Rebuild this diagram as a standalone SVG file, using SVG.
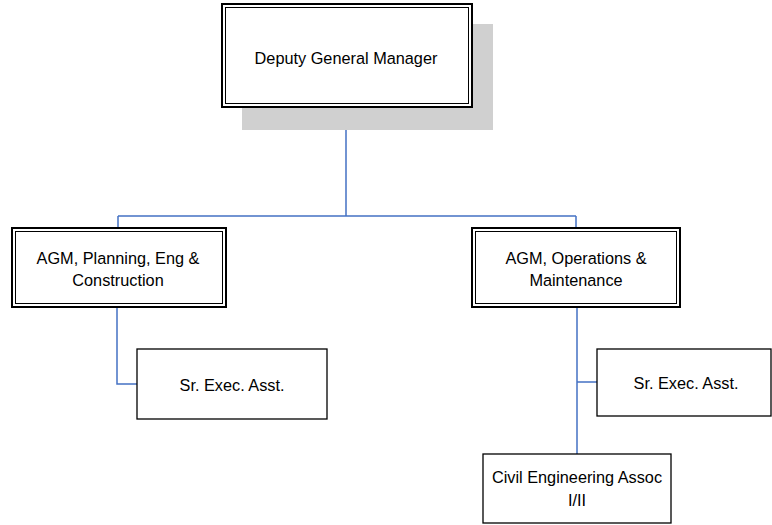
<svg xmlns="http://www.w3.org/2000/svg" width="772" height="525" viewBox="0 0 772 525">
<style>
.o{fill:none;stroke:#000;stroke-width:2}
.i{fill:none;stroke:#000;stroke-width:1}
.b{fill:#fff;stroke:#000;stroke-width:1.3}
.t{font-family:"Liberation Sans",Arial,sans-serif;font-size:16.3px;fill:#000;text-anchor:middle}
.c{fill:none;stroke:#4472C4;stroke-width:1.5}
</style>
<rect width="772" height="525" fill="#fff"/>
<g id="connectors">
<path class="c" d="M346 108V216M118 216H576M118 216V228M576 216V228"/>
<path class="c" d="M117 307V384H137"/>
<path class="c" d="M577 307V454M577 382H597"/>
</g>
<g id="dgm">
<rect x="242" y="24" width="251" height="106" fill="#d0d0d0"/>
<rect x="222" y="4" width="250" height="103" fill="#fff"/>
<rect class="o" x="222" y="4" width="250" height="103"/>
<rect class="i" x="225.5" y="7.5" width="243" height="96"/>
<text class="t" x="346" y="64">Deputy General Manager</text>
</g>
<g id="agm-pec">
<rect x="12" y="228" width="214" height="79" fill="#fff"/>
<rect class="o" x="12" y="228" width="214" height="79"/>
<rect class="i" x="15.5" y="231.5" width="207" height="72"/>
<text class="t" x="118" y="264">AGM, Planning, Eng &amp;</text>
<text class="t" x="118" y="286">Construction</text>
</g>
<g id="agm-om">
<rect x="472" y="228" width="208" height="79" fill="#fff"/>
<rect class="o" x="472" y="228" width="208" height="79"/>
<rect class="i" x="475.5" y="231.5" width="201" height="72"/>
<text class="t" x="576" y="264">AGM, Operations &amp;</text>
<text class="t" x="576" y="286">Maintenance</text>
</g>
<g id="sea-left">
<rect class="b" x="137" y="349" width="190" height="70"/>
<text class="t" x="232" y="391">Sr. Exec. Asst.</text>
</g>
<g id="sea-right">
<rect class="b" x="597" y="349" width="174" height="67"/>
<text class="t" x="686" y="389">Sr. Exec. Asst.</text>
</g>
<g id="civil">
<rect class="b" x="483" y="454" width="188" height="69"/>
<text class="t" x="577" y="483">Civil Engineering Assoc</text>
<text class="t" x="577" y="506">I/II</text>
</g>
</svg>
